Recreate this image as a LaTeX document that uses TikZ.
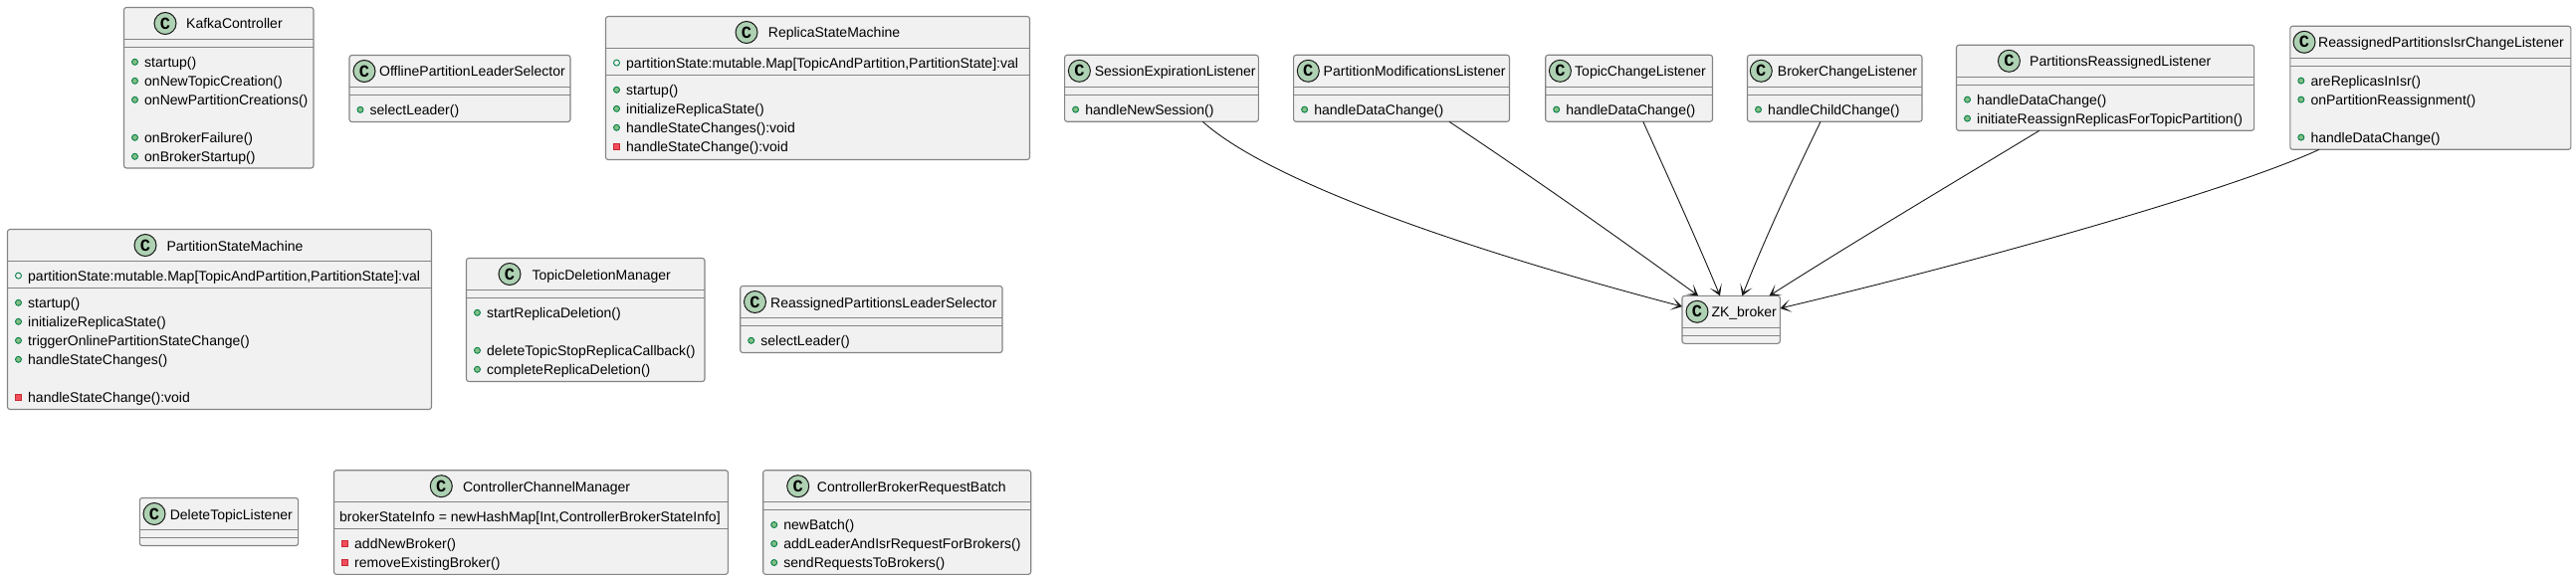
\documentclass[tikz,border=0pt]{standalone}
\usepackage{fontspec}
\setmainfont{Liberation Sans}
\setmonofont{Liberation Mono}
\usepackage{tikz}
\usetikzlibrary{calc,arrows.meta}

\definecolor{classfill}{HTML}{F1F1F1}
\definecolor{classedge}{HTML}{848484}
\definecolor{badgefill}{HTML}{ADD1B2}
\definecolor{inkline}{HTML}{181818}
\definecolor{pubfill}{HTML}{84BE84}
\definecolor{pubedge}{HTML}{038048}
\definecolor{privfill}{HTML}{F24D5C}
\definecolor{privedge}{HTML}{C82930}

\tikzset{
  classbox/.style={draw=classedge, fill=classfill, line width=1.1pt, rounded corners=2.5pt, inner sep=0pt, outer sep=0pt, anchor=north west},
  classrule/.style={draw=classedge, line width=1.1pt},
  classtitle/.style={anchor=base west, inner sep=0pt, font=\fontsize{14}{17}\selectfont, text=black},
  rowtext/.style={anchor=base west, inner sep=0pt, font=\fontsize{14}{17}\selectfont, text=black, yshift=-5pt},
  cbadge/.style={circle, draw=inkline, fill=badgefill, line width=1pt, minimum size=22pt, inner sep=0pt, font=\fontsize{17}{17}\ttfamily\bfseries},
  pubdot/.style={circle, draw=pubedge, fill=pubfill, line width=.9pt, minimum size=6pt, inner sep=0pt},
  fielddot/.style={circle, draw=pubedge, fill=none, line width=.9pt, minimum size=6pt, inner sep=0pt},
  privdot/.style={rectangle, draw=privedge, fill=privfill, line width=.9pt, minimum size=6pt, inner sep=0pt},
  zklink/.style={draw=inkline, line width=.9pt, -{Stealth[length=11pt,width=13pt,inset=7pt]}},
}

% name, left, top, right, bottom, field height, badge x, title x, title
\newcommand{\classnode}[9]{
  \node[classbox, minimum width={(#4-#2)*1pt}, minimum height={(#5-#3)*1pt}] (#1) at (#2,#3) {};
  \coordinate (#1-f) at ([yshift=-32pt]#1.north west);
  \coordinate (#1-m) at ([yshift={-32pt-#6pt}]#1.north west);
  \draw[classrule] (#1-f) -- (#1-f -| #1.east);
  \draw[classrule] (#1-m) -- (#1-m -| #1.east);
  \node[cbadge] (#1-c) at (#7,{#3+16}) {C};
  \node[classtitle] (#1-t) at (#8,{#3+21.5}) {#9};
}
% dot style, class, row number, text
\newcommand{\methodrow}[4]{
  \node[#1] (#2-d#3) at ([xshift=11pt, yshift={-14.8pt-19pt*(#3-1)}]#2-m) {};
  \node[rowtext] (#2-r#3) at ([xshift=20.5pt, yshift={-14.8pt-19pt*(#3-1)}]#2-m) {#4};
}
% class, text
\newcommand{\fieldrow}[2]{
  \node[fielddot] (#1-fd) at ([xshift=11pt, yshift=-14.6pt]#1-f) {};
  \node[rowtext] (#1-fr) at ([xshift=20.5pt, yshift=-14.6pt]#1-f) {#2};
}

\begin{document}
\begin{tikzpicture}[x=1pt, y=-1pt]
  \useasboundingbox (0,0) rectangle (2588,583);

  % controller classes, first row
  \classnode{kafka}{124.5}{7.5}{315}{169}{8}{166}{187}{KafkaController}
  \methodrow{pubdot}{kafka}{1}{startup()}
  \methodrow{pubdot}{kafka}{2}{onNewTopicCreation()}
  \methodrow{pubdot}{kafka}{3}{onNewPartitionCreations()}
  \methodrow{pubdot}{kafka}{5}{onBrokerFailure()}
  \methodrow{pubdot}{kafka}{6}{onBrokerStartup()}

  \classnode{offline}{351}{55.5}{573}{122.5}{8}{366}{381}{OfflinePartitionLeaderSelector}
  \methodrow{pubdot}{offline}{1}{selectLeader()}

  \classnode{replica}{608.5}{16.5}{1034.5}{160.5}{27}{750}{771.7}{ReplicaStateMachine}
  \fieldrow{replica}{partitionState:mutable.Map[TopicAndPartition,PartitionState]:val}
  \methodrow{pubdot}{replica}{1}{startup()}
  \methodrow{pubdot}{replica}{2}{initializeReplicaState()}
  \methodrow{pubdot}{replica}{3}{handleStateChanges():void}
  \methodrow{privdot}{replica}{4}{handleStateChange():void}

  % second row
  \classnode{partition}{7.5}{230.5}{433.5}{411.5}{27}{146}{167.3}{PartitionStateMachine}
  \fieldrow{partition}{partitionState:mutable.Map[TopicAndPartition,PartitionState]:val}
  \methodrow{pubdot}{partition}{1}{startup()}
  \methodrow{pubdot}{partition}{2}{initializeReplicaState()}
  \methodrow{pubdot}{partition}{3}{triggerOnlinePartitionStateChange()}
  \methodrow{pubdot}{partition}{4}{handleStateChanges()}
  \methodrow{privdot}{partition}{6}{handleStateChange():void}

  \classnode{deletion}{468.5}{259.5}{708}{383.5}{8}{512}{534.4}{TopicDeletionManager}
  \methodrow{pubdot}{deletion}{1}{startReplicaDeletion()}
  \methodrow{pubdot}{deletion}{3}{deleteTopicStopReplicaCallback()}
  \methodrow{pubdot}{deletion}{4}{completeReplicaDeletion()}

  \classnode{reassigned}{743.7}{287.5}{1007}{354.5}{8}{758.5}{774}{ReassignedPartitionsLeaderSelector}
  \methodrow{pubdot}{reassigned}{1}{selectLeader()}

  % third row
  \classnode{deltopic}{140.4}{500.5}{299.6}{548.5}{8}{155}{170.6}{DeleteTopicListener}

  \classnode{channel}{335.5}{472.7}{731.4}{577.3}{27}{443.3}{464.9}{ControllerChannelManager}
  \node[rowtext] (channel-fr) at ([xshift=5.5pt, yshift=-14.6pt]channel-f) {brokerStateInfo = newHashMap[Int,ControllerBrokerStateInfo]};
  \methodrow{privdot}{channel}{1}{addNewBroker()}
  \methodrow{privdot}{channel}{2}{removeExistingBroker()}

  \classnode{batch}{766.7}{472.7}{1035.7}{577.3}{8}{801.7}{820.7}{ControllerBrokerRequestBatch}
  \methodrow{pubdot}{batch}{1}{newBatch()}
  \methodrow{pubdot}{batch}{2}{addLeaderAndIsrRequestForBrokers()}
  \methodrow{pubdot}{batch}{3}{sendRequestsToBrokers()}

  % listeners
  \classnode{session}{1069.6}{55.3}{1264.3}{122.3}{8}{1084.4}{1099.6}{SessionExpirationListener}
  \methodrow{pubdot}{session}{1}{handleNewSession()}

  \classnode{modify}{1299.6}{55.3}{1516.5}{122.3}{8}{1314.3}{1329.5}{PartitionModificationsListener}
  \methodrow{pubdot}{modify}{1}{handleDataChange()}

  \classnode{topic}{1552.7}{55.3}{1720.5}{122.3}{8}{1567.4}{1582}{TopicChangeListener}
  \methodrow{pubdot}{topic}{1}{handleDataChange()}

  \classnode{broker}{1755.5}{55.3}{1931}{122.3}{8}{1769.3}{1785.7}{BrokerChangeListener}
  \methodrow{pubdot}{broker}{1}{handleChildChange()}

  \classnode{moved}{1965.5}{45.3}{2264.6}{131.3}{8}{2018.4}{2039}{PartitionsReassignedListener}
  \methodrow{pubdot}{moved}{1}{handleDataChange()}
  \methodrow{pubdot}{moved}{2}{initiateReassignReplicasForTopicPartition()}

  \classnode{isr}{2300.8}{26.3}{2582.9}{150.3}{8}{2315}{2329}{ReassignedPartitionsIsrChangeListener}
  \methodrow{pubdot}{isr}{1}{areReplicasInIsr()}
  \methodrow{pubdot}{isr}{2}{onPartitionReassignment()}
  \methodrow{pubdot}{isr}{4}{handleDataChange()}

  \classnode{zk}{1690}{297.3}{1788.3}{345.3}{8}{1705}{1719.3}{ZK\_broker}

  % links into ZK_broker
  \draw[zklink] (session.-39.7) .. controls (1270,178) and (1450,245) .. (zk.165.3);
  \draw[zklink] (modify.-35.9) .. controls (1538,177) and (1622,236) .. (zk.144.2);
  \draw[zklink] (topic.-67.3) .. controls (1675,176) and (1702,235) .. (zk.115.6);
  \draw[zklink] (broker.-113.7) .. controls (1803,176) and (1775,235) .. (zk.65.8);
  \draw[zklink] (moved.-147.7) .. controls (1957,187) and (1866,241) .. (zk.32.5);
  \draw[zklink] (isr.-151.5) .. controls (2240,192) and (1990,262) .. (zk.13.8);
\end{tikzpicture}
\end{document}
